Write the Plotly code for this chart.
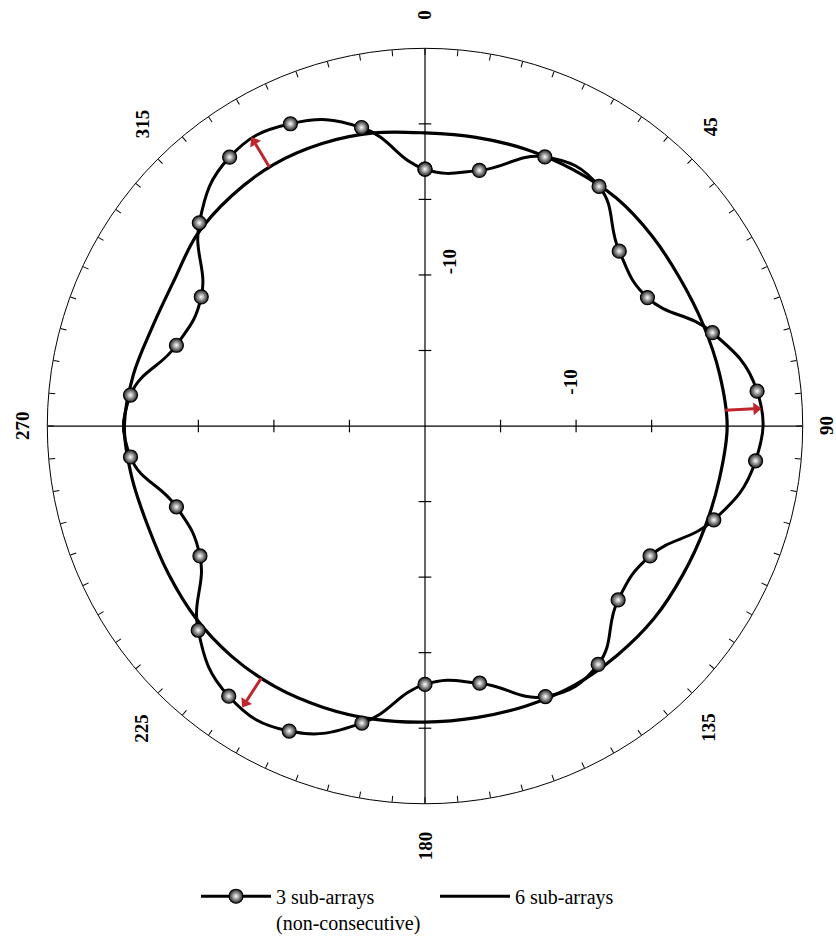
import plotly.graph_objects as go

W, H = 836, 942

# radial scale in dB (centre = R_MIN, outer ring = R_MAX)
R_MIN, R_MAX = -20, 5
RADIAL_TICKS = [-15, -10, -5, 0]

# 3 sub-arrays (non-consecutive), sampled every 12 degrees
ANG_3 = list(range(0, 360, 12))
GAIN_3 = [-3.0, -2.7, -0.5, -0.4, -2.7, -3.0, 0.0, 2.1, 2.0, 0.1,
          -2.8, -2.8, -0.5, -0.4, -2.6, -2.9, 0.1, 2.1, 2.1, 0.2,
          -2.8, -2.7, -0.4, -0.4, -2.7, -2.9, 0.1, 2.0, 1.9, 0.2]

# 6 sub-arrays, sampled every 10 degrees
ANG_6 = list(range(0, 360, 10))
GAIN_6 = [-0.6, -0.6, -0.5, -0.4, -0.3, -0.4, -0.5, -0.4, -0.2, 0.0,
          -0.2, -0.3, -0.3, -0.2, -0.2, -0.2, -0.3, -0.4, -0.4, -0.3,
          -0.2, -0.1, -0.1, -0.2, -0.4, -0.5, -0.3, -0.1, -0.4, -0.8,
          -0.8, -0.3, -0.1, 0.0, -0.1, -0.3]

# red arrows: direction (deg), start and end gain (dB)
ARROW_ANG = [329, 87, 213]
ARROW_FROM = [0.0, -0.1, -0.1]
ARROW_TO = [2.3, 2.3, 2.2]

ANGLE_LABELS = ["0", "45", "90", "135", "180", "225", "270", "315"]
ANGLE_LABEL_XY = [(425, 15), (710, 129), (826, 432), (709, 738),
                  (425, 858), (142, 739), (22, 432), (142, 126)]
RADIAL_LABEL = "-10"
RADIAL_LABEL_XY = [(449, 266), (571, 388)]

SERIF = "Liberation Serif"
RED = "#c0262d"

fig = go.Figure()

# axis spokes through the centre
for a, b in [(0, 180), (90, 270)]:
    fig.add_trace(go.Scatterpolar(
        r=[R_MAX, R_MIN, R_MAX], theta=[a, a, b], mode="lines",
        line=dict(color="black", width=1.2), showlegend=False, hoverinfo="skip"))

# radial tick marks on the spokes
for angs, sym in [((0, 180), "line-ew"), ((90, 270), "line-ns")]:
    rr, tt = [], []
    for a in angs:
        for v in RADIAL_TICKS:
            rr.append(v)
            tt.append(a)
    fig.add_trace(go.Scatterpolar(
        r=rr, theta=tt, mode="markers",
        marker=dict(symbol=sym, size=9, line=dict(color="black", width=1.2)),
        showlegend=False, hoverinfo="skip"))

# 6 sub-arrays
fig.add_trace(go.Scatterpolar(
    r=GAIN_6 + [GAIN_6[0]], theta=ANG_6 + [360], mode="lines",
    name="6 sub-arrays", legendrank=2,
    line=dict(color="black", width=3.2, shape="spline")))

# 3 sub-arrays
fig.add_trace(go.Scatterpolar(
    r=GAIN_3 + [GAIN_3[0]], theta=ANG_3 + [360], mode="lines+markers",
    name="3 sub-arrays<br>(non-consecutive)", legendrank=1,
    line=dict(color="black", width=3, shape="spline", smoothing=1.3),
    marker=dict(symbol="circle", size=14, color="#202020",
                gradient=dict(type="radial", color="#ffffff"),
                line=dict(color="black", width=1.2))))

# red arrows
for a, r0, r1 in zip(ARROW_ANG, ARROW_FROM, ARROW_TO):
    fig.add_trace(go.Scatterpolar(
        r=[r0, r1 - 0.5], theta=[a, a], mode="lines",
        line=dict(color=RED, width=3), showlegend=False, hoverinfo="skip"))
    fig.add_trace(go.Scatterpolar(
        r=[r1 - 0.35], theta=[a], mode="markers",
        marker=dict(symbol="triangle-up", size=11, angle=a, color=RED),
        showlegend=False, hoverinfo="skip"))

annotations = []
for txt, (x, y) in zip(ANGLE_LABELS, ANGLE_LABEL_XY):
    annotations.append(dict(
        text=txt, x=x / W, y=1 - y / H, xref="paper", yref="paper",
        showarrow=False, textangle=-90, xanchor="center", yanchor="middle",
        font=dict(family=SERIF, size=19, color="black", weight="bold")))
for (x, y) in RADIAL_LABEL_XY:
    annotations.append(dict(
        text=RADIAL_LABEL, x=x / W, y=1 - y / H, xref="paper", yref="paper",
        showarrow=False, textangle=-90, xanchor="center", yanchor="middle",
        font=dict(family=SERIF, size=19, color="black", weight="bold")))

fig.update_layout(
    width=W, height=H,
    margin=dict(l=0, r=0, t=0, b=0),
    paper_bgcolor="white",
    plot_bgcolor="white",
    polar=dict(
        domain=dict(x=[42 / W, 808 / W], y=[1 - 815 / H, 1 - 49 / H]),
        bgcolor="white",
        angularaxis=dict(
            rotation=90, direction="clockwise",
            showline=True, linecolor="black", linewidth=1,
            showgrid=False, ticks="inside", ticklen=6, tickwidth=1,
            tickcolor="black", tickmode="array",
            tickvals=list(range(0, 360, 5)), showticklabels=False),
        radialaxis=dict(
            range=[R_MIN, R_MAX], showline=False, showgrid=False,
            ticks="", showticklabels=False),
    ),
    legend=dict(
        orientation="h", x=196 / W, y=1 - 889 / H,
        xanchor="left", yanchor="top", valign="top",
        font=dict(family=SERIF, size=20, color="black"),
        bgcolor="rgba(0,0,0,0)", itemwidth=70,
        entrywidth=154, entrywidthmode="pixels"),
    annotations=annotations,
    showlegend=True,
)

fig.write_html("out.html")
